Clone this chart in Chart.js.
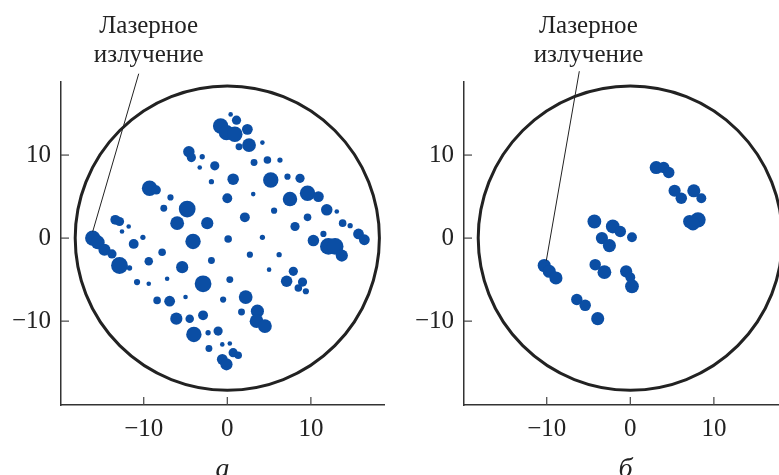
<!DOCTYPE html>
<html><head><meta charset="utf-8">
<script src="https://cdn.jsdelivr.net/npm/chart.js@4"></script>
<style>
html,body{margin:0;padding:0;background:#fff;overflow:hidden;width:779px;height:475px;position:relative;}
.wrap{position:absolute;top:0;width:400px;height:475px;}
</style></head><body>
<div class="wrap" style="left:0"><canvas id="c1" width="400" height="475"></canvas></div>
<div class="wrap" style="left:403px"><canvas id="c2" width="400" height="475"></canvas></div>
<script>
// ---- data ----
const tickValues = [-10, 0, 10];
const tickLabels = ['\u221210', '0', '10'];
const panelLabels = ['а', 'б'];
const noteLines = ['Лазерное', 'излучение'];
const circleRadius = 18.2;

// panel а
const xA = [0.4,1.1,-0.8,-0.1,0.9,2.4,2.6,1.4,4.2,-4.6,-4.3,-3.0,-3.3,-1.5,-1.9,0.7,3.2,4.8,6.3,5.2,7.2,8.7,3.1,0.0,9.6,10.9,7.5,11.9,13.1,5.6,9.6,8.1,13.8,14.7,15.7,16.4,11.5,10.3,12.1,12.9,13.7,4.2,6.2,2.7,5.0,7.9,7.1,9.0,8.5,9.4,-9.3,-8.5,-6.8,-7.6,-4.8,-6.0,-2.4,2.1,0.1,-4.1,-13.4,-12.9,-11.8,-12.6,-10.1,-11.2,-16.1,-15.5,-14.7,-13.8,-12.9,-11.7,-9.4,-7.8,-1.9,-5.4,-7.2,-10.8,-9.4,-2.9,0.3,-5.0,-8.4,-6.9,-0.5,2.2,1.7,3.6,3.5,4.5,-6.1,-4.5,-2.9,-4.0,-2.3,-1.1,-2.2,-0.6,0.3,0.7,1.3,-0.6,-0.1];
const yA = [14.9,14.2,13.5,12.7,12.5,13.1,11.2,11.0,11.5,10.4,9.7,9.8,8.5,8.7,6.8,7.1,9.1,9.4,9.4,7.0,7.4,7.2,5.3,4.8,5.4,5.0,4.7,3.4,3.2,3.3,2.5,1.4,1.8,1.5,0.5,-0.2,0.5,-0.3,-1.0,-1.0,-2.1,0.1,-2.0,-2.0,-3.8,-4.0,-5.2,-5.3,-6.0,-6.4,6.0,5.8,4.9,3.6,3.5,1.8,1.8,2.5,-0.1,-0.4,2.2,2.0,1.4,0.8,0.1,-0.7,0.0,-0.5,-1.4,-1.9,-3.3,-3.6,-2.8,-1.7,-2.7,-3.5,-4.9,-5.3,-5.5,-5.5,-5.0,-7.1,-7.5,-7.6,-7.4,-7.1,-8.9,-8.8,-10.0,-10.6,-9.7,-9.7,-9.3,-11.6,-11.4,-11.2,-13.3,-12.8,-12.7,-13.8,-14.1,-14.6,-15.2];
const rA = [2,4,6.7,6.7,6.7,4.7,6,3,2,5,4,2.3,2,4,2.3,5,3,3.3,2.3,6.7,2.7,4,2,4.3,6.7,4.7,6.3,5,2,2.7,3.3,4,3.3,2.3,4.7,4.7,2.7,5,7.3,7.3,5.3,2.3,2.3,2.7,2,4,5,4,3.3,2.7,6.7,4,2.7,3,7.3,6,5.3,4.3,3.3,6.7,4.3,4,2,2,2.3,4.3,6.7,6,5.3,4,7.3,2.3,3.7,3.3,3,5.3,2,2.7,2,7.3,3,2,3.3,4.7,2.7,6,3,5.7,6,6,5.3,3.7,4.3,6.7,2.3,4,3,2,2,4,3.3,4.7,5.3];

// panel б
const xB = [3.1,4.0,4.6,5.3,6.1,7.6,8.5,7.1,8.1,7.5,-4.3,-2.1,-1.2,0.2,-3.4,-2.5,-10.3,-9.7,-8.9,-4.2,-3.1,-0.5,0.0,0.2,-6.4,-5.4,-3.9];
const yB = [8.5,8.5,7.9,5.7,4.8,5.7,4.8,2.0,2.2,1.7,2.0,1.4,0.8,0.1,0.0,-0.9,-3.3,-4.0,-4.8,-3.2,-4.1,-4.0,-4.7,-5.8,-7.4,-8.1,-9.7];
const rB = [5.7,5,5,5.3,5,5.7,4.3,5.7,6.7,5.7,6,6,5,4.3,5.3,5.7,5.7,5.7,5.7,5,6,5.3,4.3,6,5,5,5.7];

// annotation: label centre x, leader start, leader end (data units)
const noteA = {cx: -9.4, from: [-10.6, 19.8], to: [-16.1, 0.8]};
const noteB = {cx: -5.0, from: [-6.1, 20.1], to: [-10.05, -2.7]};

// ---- style ----
const BLUE = '#0b4ea4';
const INK = '#222222';
const SERIF = '"Liberation Serif", "DejaVu Serif", serif';
const SIZE_SCALE = 1.15;

const deco = {
  id: 'deco',
  afterDraw(chart, args, opts) {
    const {ctx, chartArea} = chart;
    const xs = chart.scales.x, ys = chart.scales.y;
    ctx.save();
    // circle
    const cx = xs.getPixelForValue(0), cy = ys.getPixelForValue(0);
    const rad = xs.getPixelForValue(circleRadius) - cx;
    ctx.beginPath();
    ctx.arc(cx, cy, rad, 0, Math.PI * 2);
    ctx.lineWidth = 3;
    ctx.strokeStyle = INK;
    ctx.stroke();
    // inward ticks
    ctx.lineWidth = 1.2;
    ctx.strokeStyle = '#444';
    tickValues.forEach(v => {
      const px = xs.getPixelForValue(v);
      ctx.beginPath(); ctx.moveTo(px, chartArea.bottom); ctx.lineTo(px, chartArea.bottom - 8); ctx.stroke();
      const py = ys.getPixelForValue(v);
      ctx.beginPath(); ctx.moveTo(chartArea.left, py); ctx.lineTo(chartArea.left + 8, py); ctx.stroke();
    });
    // leader line
    const n = opts.note;
    ctx.beginPath();
    ctx.moveTo(xs.getPixelForValue(n.from[0]), ys.getPixelForValue(n.from[1]));
    ctx.lineTo(xs.getPixelForValue(n.to[0]), ys.getPixelForValue(n.to[1]));
    ctx.lineWidth = 1;
    ctx.strokeStyle = INK;
    ctx.stroke();
    // label text
    ctx.fillStyle = INK;
    ctx.font = '25px ' + SERIF;
    ctx.textAlign = 'center';
    ctx.textBaseline = 'alphabetic';
    const tx = xs.getPixelForValue(n.cx);
    ctx.fillText(noteLines[0], tx, chartArea.top - 49);
    ctx.fillText(noteLines[1], tx, chartArea.top - 20);
    ctx.restore();
  }
};

function makeChart(id, xs, ys, rs, label, note) {
  const pts = xs.map((x, i) => ({x: x, y: ys[i], r: rs[i] * SIZE_SCALE}));
  const tickCfg = {
    padding: 9,
    font: {family: SERIF, size: 25},
    color: INK,
    callback: (v, i) => tickLabels[i]
  };
  return new Chart(document.getElementById(id), {
    type: 'bubble',
    data: {datasets: [{data: pts, backgroundColor: BLUE, borderWidth: 0, hoverRadius: 0}]},
    options: {
      responsive: false,
      animation: false,
      events: [],
      layout: {padding: {top: 82, right: 16, bottom: 0, left: 0}},
      plugins: {legend: {display: false}, tooltip: {enabled: false}, deco: {note: note}},
      scales: {
        x: {
          type: 'linear', min: -19.9, max: 18.75,
          afterBuildTicks: s => { s.ticks = tickValues.map(v => ({value: v})); },
          afterFit: s => { s.height = 70; },
          grid: {display: true, drawOnChartArea: false, drawTicks: false},
          border: {display: true, color: '#333', width: 1.5},
          ticks: tickCfg,
          title: {display: true, text: label, color: INK,
                  font: {family: SERIF, size: 28, style: 'italic', lineHeight: 1},
                  padding: {top: 0, bottom: -9}}
        },
        y: {
          type: 'linear', min: -20.1, max: 18.8,
          afterBuildTicks: s => { s.ticks = tickValues.map(v => ({value: v})); },
          afterFit: s => { s.width = 61; },
          grid: {display: true, drawOnChartArea: false, drawTicks: false},
          border: {display: true, color: '#333', width: 1.5},
          ticks: Object.assign({}, tickCfg, {padding: 10})
        }
      }
    },
    plugins: [deco]
  });
}

makeChart('c1', xA, yA, rA, panelLabels[0], noteA);
makeChart('c2', xB, yB, rB, panelLabels[1], noteB);
</script>
</body></html>
